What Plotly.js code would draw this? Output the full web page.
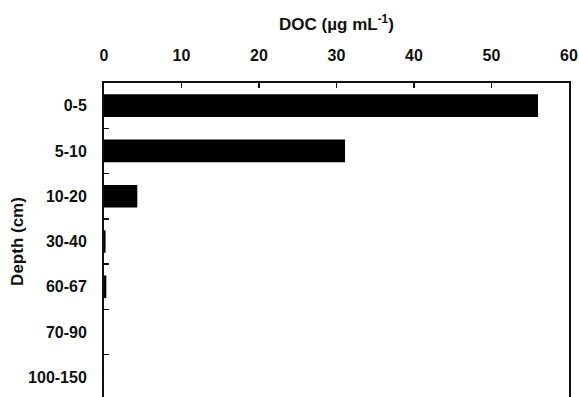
<!DOCTYPE html>
<html><head><meta charset="utf-8">
<script src="https://cdn.plot.ly/plotly-3.0.1.min.js"></script>
<style>html,body{margin:0;padding:0;overflow:hidden;background:#fff;width:579px;height:397px}</style>
</head><body><div id="chart"></div>
<script>
const depths = ["0-5","5-10","10-20","30-40","60-67","70-90","100-150"];
const doc = [56.0, 31.1, 4.3, 0.2, 0.3, 0.0, 0.0];
const xTicks = [0,10,20,30,40,50,60];

const fam = "Liberation Sans, Arial, sans-serif";
Plotly.newPlot("chart", [{
  type:"bar", orientation:"h", y:depths, x:doc,
  marker:{color:"#000", line:{width:0}}, width:0.5, hoverinfo:"none"
}], {
  width:579, height:400,
  margin:{l:104, r:10, t:83, b:0},
  paper_bgcolor:"#fff", plot_bgcolor:"#fff",
  font:{family:fam, size:16, color:"#111"},
  showlegend:false,
  xaxis:{
    side:"top", range:[0,60], tickvals:xTicks, ticktext:xTicks.map(String),
    ticks:"inside", ticklen:5, tickwidth:1.5, tickcolor:"#111", showline:true, mirror:true,
    linecolor:"#111", linewidth:2, showgrid:false, zeroline:false,
    tickfont:{family:fam, size:16, color:"#111", weight:"bold"},
    ticklabelstandoff:14,
    title:{text:"DOC (µg mL<sup>-1</sup>)", font:{family:fam, size:17, color:"#111", weight:"bold"}, standoff:12}
  },
  yaxis:{
    type:"category", autorange:"reversed", tickson:"boundaries",
    ticks:"inside", ticklen:5, tickwidth:1.5, tickcolor:"#111", showline:true, mirror:true,
    linecolor:"#111", linewidth:2, showgrid:false, zeroline:false,
    tickfont:{family:fam, size:16, color:"#111", weight:"bold"},
    ticklabelstandoff:12,
    title:{text:"Depth (cm)", font:{family:fam, size:17, color:"#111", weight:"bold"}, standoff:0}
  }
}, {staticPlot:true});
</script></body></html>
